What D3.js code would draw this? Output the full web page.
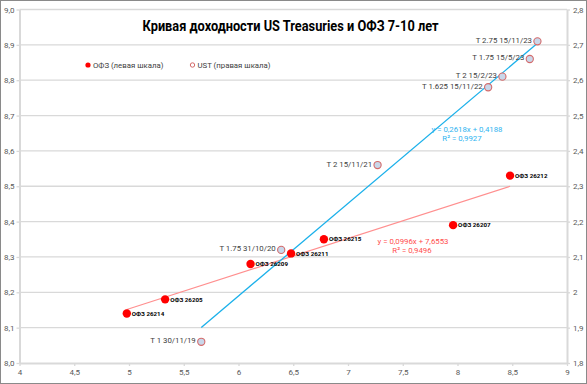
<!DOCTYPE html>
<html><head><meta charset="utf-8">
<script src="https://cdnjs.cloudflare.com/ajax/libs/d3/7.8.5/d3.min.js"></script>
<style>html,body{margin:0;padding:0;background:#fff}svg{display:block}</style>
</head><body><div id="chart"></div>
<script>
// ---- data ----
const title = "Кривая доходности US Treasuries и ОФЗ 7-10 лет";
const ofzNames = ["ОФЗ 26214","ОФЗ 26205","ОФЗ 26209","ОФЗ 26211","ОФЗ 26215","ОФЗ 26207","ОФЗ 26212"];
const ofzX = [4.98, 5.33, 6.11, 6.48, 6.78, 7.96, 8.48];
const ofzY = [8.14, 8.18, 8.28, 8.31, 8.35, 8.39, 8.53];
const ustNames = ["T 1 30/11/19","T 1.75 31/10/20","T 2 15/11/21","T 1.625 15/11/22","T 2 15/2/23","T 1.75 15/5/23","T 2.75 15/11/23"];
const ustX = [5.66, 6.39, 7.27, 8.28, 8.41, 8.66, 8.73];
const ustY = [1.86, 2.12, 2.36, 2.58, 2.61, 2.66, 2.71];
const ofzTrend = [0.0996, 7.6553], ofzR2 = "0,9496";
const ustTrend = [0.2618, 0.4188], ustR2 = "0,9927";
const xTicks = [4,4.5,5,5.5,6,6.5,7,7.5,8,8.5,9];
const xTickLabels = ["4","4,5","5","5,5","6","6,5","7","7,5","8","8,5","9"];
const leftTicks = [8.0,8.1,8.2,8.3,8.4,8.5,8.6,8.7,8.8,8.9,9.0];
const leftTickLabels = ["8,0","8,1","8,2","8,3","8,4","8,5","8,6","8,7","8,8","8,9","9,0"];
const rightTicks = [1.8,1.9,2.0,2.1,2.2,2.3,2.4,2.5,2.6,2.7,2.8];
const rightTickLabels = ["1,8","1,9","2","2,1","2,2","2,3","2,4","2,5","2,6","2,7","2,8"];
const legendLabels = ["ОФЗ (левая шкала)","UST (правая шкала)"];

// ---- layout ----
const W = 587, H = 384;
const FONT = "Roboto, 'Noto Sans', sans-serif";
const svg = d3.select("#chart").append("svg").attr("width", W).attr("height", H)
  .style("font-family", FONT);
svg.append("rect").attr("x",0.5).attr("y",0.5).attr("width",W-1).attr("height",H-1)
  .attr("fill","#fff").attr("stroke","#8a8a8a");

const x = d3.scaleLinear().domain([4,9]).range([19.5,567]);
const yL = d3.scaleLinear().domain([8,9]).range([363,9.5]);
const yR = d3.scaleLinear().domain([1.8,2.8]).range([363,9.5]);

// gridlines
svg.append("g").selectAll("line").data(leftTicks.slice(1)).join("line")
  .attr("x1", x(4)).attr("x2", x(9)).attr("y1", d=>yL(d)).attr("y2", d=>yL(d))
  .attr("stroke","#d9d9d9").attr("stroke-width",1.3);

function styleAxis(g){
  g.select(".domain").attr("stroke","#d9d9d9").attr("stroke-width",2);
  g.selectAll(".tick line").attr("stroke","#d9d9d9").attr("stroke-width",1.3);
  g.selectAll(".tick text").attr("fill","#595959").style("font-size","8px").style("font-family",FONT);
}
const axB = d3.axisBottom(x).tickValues(xTicks).tickFormat((d,i)=>xTickLabels[i]).tickSize(3).tickSizeOuter(0).tickPadding(3);
svg.append("g").attr("transform",`translate(0,${yL(8)})`).call(axB).call(styleAxis);
const axL = d3.axisLeft(yL).tickValues(leftTicks).tickFormat((d,i)=>leftTickLabels[i]).tickSize(3).tickSizeOuter(0).tickPadding(2);
svg.append("g").attr("transform",`translate(${x(4)},0)`).call(axL).call(styleAxis);
const axR = d3.axisRight(yR).tickValues(rightTicks).tickFormat((d,i)=>rightTickLabels[i]).tickSize(3).tickSizeOuter(0).tickPadding(3);
svg.append("g").attr("transform",`translate(${x(9)},0)`).call(axR).call(styleAxis);

// trendlines
const ofzExt = d3.extent(ofzX), ustExt = d3.extent(ustX);
svg.append("line").attr("x1",x(ofzExt[0])).attr("x2",x(ofzExt[1]))
  .attr("y1",yL(ofzTrend[0]*ofzExt[0]+ofzTrend[1])).attr("y2",yL(ofzTrend[0]*ofzExt[1]+ofzTrend[1]))
  .attr("stroke","#ff8f8f").attr("stroke-width",1.2);
svg.append("line").attr("x1",x(ustExt[0])).attr("x2",x(ustExt[1]))
  .attr("y1",yR(ustTrend[0]*ustExt[0]+ustTrend[1])).attr("y2",yR(ustTrend[0]*ustExt[1]+ustTrend[1]))
  .attr("stroke","#1ab0ea").attr("stroke-width",1.3);

// UST points
const ust = ustX.map((v,i)=>({x:v,y:ustY[i],n:ustNames[i]}));
svg.append("g").selectAll("circle").data(ust).join("circle")
  .attr("cx",d=>x(d.x)).attr("cy",d=>yR(d.y)).attr("r",3.6)
  .attr("fill","#c9d7ea").attr("stroke","#d46a6a").attr("stroke-width",1.1);
svg.append("g").selectAll("text").data(ust).join("text")
  .attr("x",d=>x(d.x)-5.5).attr("y",d=>yR(d.y)+1.5).attr("text-anchor","end")
  .attr("fill","#404040").style("font-size","7.8px").text(d=>d.n);

// OFZ points
const ofz = ofzX.map((v,i)=>({x:v,y:ofzY[i],n:ofzNames[i]}));
svg.append("g").selectAll("circle").data(ofz).join("circle")
  .attr("cx",d=>x(d.x)).attr("cy",d=>yL(d.y)).attr("r",4.2).attr("fill","#ff0000");
svg.append("g").selectAll("text").data(ofz).join("text")
  .attr("x",d=>x(d.x)+5).attr("y",d=>yL(d.y)+2.2)
  .attr("fill","#000").style("font-size","6.2px").style("font-weight","bold").text(d=>d.n);

// equations
const fmt = v => String(v).replace(".", ",");
svg.append("text").attr("x",467).attr("y",131.5).attr("text-anchor","middle")
  .attr("fill","#2fb4f0").style("font-size","7.8px").text(`y = ${fmt(ustTrend[0])}x + ${fmt(ustTrend[1])}`);
svg.append("text").attr("x",462).attr("y",141).attr("text-anchor","middle")
  .attr("fill","#2fb4f0").style("font-size","7.8px").text(`R² = ${ustR2}`);
svg.append("text").attr("x",413).attr("y",243.5).attr("text-anchor","middle")
  .attr("fill","#ff4d4d").style("font-size","7.8px").text(`y = ${fmt(ofzTrend[0])}x + ${fmt(ofzTrend[1])}`);
svg.append("text").attr("x",412).attr("y",253).attr("text-anchor","middle")
  .attr("fill","#ff4d4d").style("font-size","7.8px").text(`R² = ${ofzR2}`);

// title
svg.append("text").attr("x",290.5).attr("y",30.5).attr("text-anchor","middle")
  .attr("textLength",296).attr("lengthAdjust","spacingAndGlyphs")
  .attr("fill","#000").style("font-size","14.5px").style("font-weight","bold").text(title);

// legend
svg.append("circle").attr("cx",88).attr("cy",65).attr("r",2.6).attr("fill","#ff0000");
svg.append("text").attr("x",93).attr("y",68).attr("fill","#404040").style("font-size","7.8px").text(legendLabels[0]);
svg.append("circle").attr("cx",192.5).attr("cy",65).attr("r",2.2).attr("fill","#fff").attr("stroke","#d46a6a").attr("stroke-width",1);
svg.append("text").attr("x",197.5).attr("y",68).attr("fill","#404040").style("font-size","7.8px").text(legendLabels[1]);
</script></body></html>
